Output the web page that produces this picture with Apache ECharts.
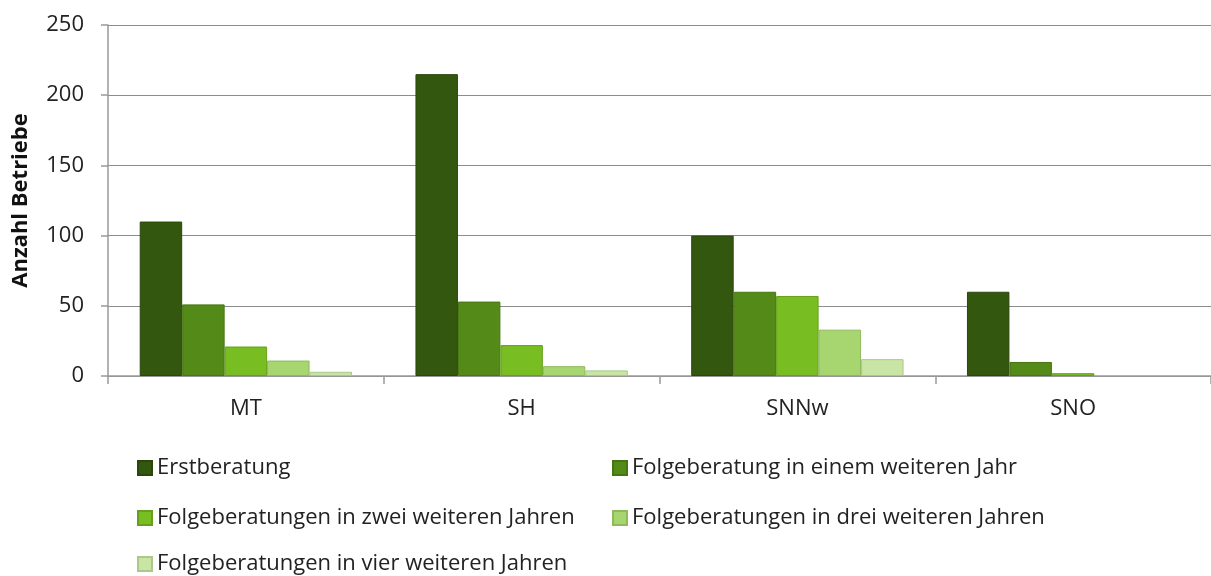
<!DOCTYPE html>
<html>
<head>
<meta charset="utf-8">
<script src="https://cdn.jsdelivr.net/npm/echarts@6/dist/echarts.min.js"></script>
<style>
  html, body { margin: 0; padding: 0; background: #fff; }
  #chart { width: 1211px; height: 576px; }
</style>
</head>
<body>
<div id="chart"></div>
<script>
// --- Daten ---
const categories = ['MT', 'SH', 'SNNw', 'SNO'];
const seriesNames = [
  'Erstberatung',
  'Folgeberatung in einem weiteren Jahr',
  'Folgeberatungen in zwei weiteren Jahren',
  'Folgeberatungen in drei weiteren Jahren',
  'Folgeberatungen in vier weiteren Jahren'
];
const erstberatung = [110, 215, 100, 60];
const folgeEins = [51, 53, 60, 10];
const folgeZwei = [21, 22, 57, 2];
const folgeDrei = [11, 7, 33, 0];
const folgeVier = [3, 4, 12, 0];
const yTicks = [0, 50, 100, 150, 200, 250];

const colors = ['#34570f', '#548a17', '#78bd22', '#a7d56f', '#c9e5a6'];
const borders = ['#2a470b', '#467512', '#65a01b', '#8fb95b', '#a9c88a'];
const FONT = 'Open Sans';

const chart = echarts.init(document.getElementById('chart'));

const allValues = [erstberatung, folgeEins, folgeZwei, folgeDrei, folgeVier];

// Nullwerte ohne Rahmen, sonst bleibt ein Strich auf der Achse
const series = allValues.map((data, i) => ({
  name: seriesNames[i],
  type: 'bar',
  data: data.map(v => (v === 0 ? { value: 0, itemStyle: { borderWidth: 0 } } : v)),
  barGap: '0%',
  barCategoryGap: '23%',
  itemStyle: { color: colors[i], borderColor: borders[i], borderWidth: 1 }
}));

// Legende in drei Zeilen, zwei Spalten
const legendPos = [
  { left: 132, top: 452 },
  { left: 607, top: 452 },
  { left: 132, top: 502 },
  { left: 607, top: 502 },
  { left: 132, top: 548 }
];
const legend = legendPos.map((p, i) => ({
  data: [seriesNames[i]],
  left: p.left,
  top: p.top,
  icon: 'rect',
  itemWidth: 14,
  itemHeight: 14,
  itemGap: 0,
  textStyle: { color: '#222', fontSize: 22, fontFamily: FONT }
}));

chart.setOption({
  animation: false,
  color: colors,
  legend: legend,
  grid: { left: 108, right: 0, top: 25, bottom: 200, containLabel: false, outerBoundsMode: 'none' },
  xAxis: {
    type: 'category',
    data: categories,
    axisLine: { show: true, lineStyle: { color: '#999', width: 1.5 } },
    axisTick: { show: true, alignWithLabel: false, length: 8, lineStyle: { color: '#999', width: 1.5 } },
    axisLabel: { color: '#222', fontSize: 22, fontFamily: FONT, margin: 22 }
  },
  yAxis: {
    type: 'value',
    min: yTicks[0],
    max: yTicks[yTicks.length - 1],
    interval: 50,
    name: 'Anzahl Betriebe',
    nameLocation: 'middle',
    nameGap: 76,
    nameRotate: 90,
    nameTextStyle: { color: '#111', fontSize: 22, fontWeight: 'bold', fontFamily: FONT },
    axisLine: { show: true, lineStyle: { color: '#999', width: 1.5 } },
    axisTick: { show: true, length: 7, lineStyle: { color: '#999', width: 1.5 } },
    axisLabel: { color: '#222', fontSize: 22, fontFamily: FONT, margin: 24 },
    splitLine: { show: true, lineStyle: { color: '#8c8c8c', width: 1.2 } }
  },
  series: series
});
</script>
</body>
</html>
